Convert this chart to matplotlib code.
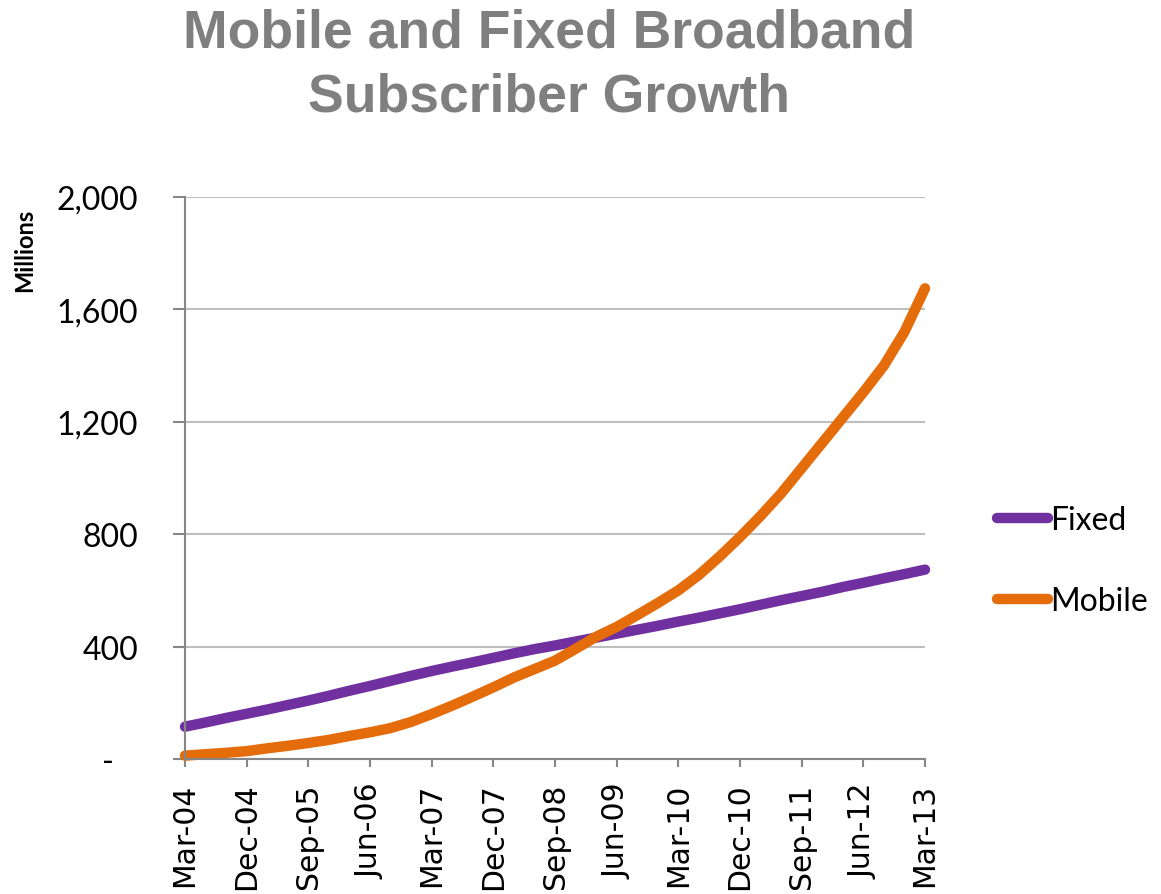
import matplotlib
matplotlib.use("Agg")
from matplotlib import pyplot as plt
from matplotlib.ticker import FuncFormatter

# quarterly, Mar-04 .. Mar-13 (millions of subscribers)
quarters = []
for yr in range(4, 14):
    for mon in ["Mar", "Jun", "Sep", "Dec"]:
        quarters.append("%s-%02d" % (mon, yr))
quarters = quarters[:37]

fixed = [115, 130, 146, 161, 176, 192, 208, 225, 243, 260, 278, 296, 313,
         329, 344, 360, 376, 391, 404, 418, 432, 446, 460, 474, 489, 503,
         518, 533, 549, 565, 580, 595, 612, 627, 643, 658, 674]
mobile = [12, 17, 22, 28, 38, 47, 57, 68, 82, 95, 110, 132, 160, 190, 222,
          255, 290, 320, 350, 392, 435, 470, 512, 555, 600, 655, 720, 790,
          865, 945, 1035, 1125, 1215, 1305, 1400, 1520, 1675]

y_ticks = [0, 400, 800, 1200, 1600, 2000]

W, H = 1161, 895
fig = plt.figure(figsize=(W/100, H/100), dpi=100)
ax = fig.add_axes([185/W, 1-760/H, 740/W, 562/H])

x = list(range(len(quarters)))
ax.plot(x, fixed, color="#7030A0", lw=7.5, solid_capstyle="round",
        solid_joinstyle="round", clip_on=False, label="Fixed")
ax.plot(x, mobile, color="#E46C0A", lw=7.5, solid_capstyle="round",
        solid_joinstyle="round", clip_on=False, label="Mobile")

ax.set_xlim(0, 36)
ax.set_ylim(0, 2000)
ax.set_yticks(y_ticks)
# excel accounting style: zero shown as a dash, indented
ax.yaxis.set_major_formatter(FuncFormatter(lambda v, p: "-   " if v == 0 else "{:,.0f}".format(v)))
ax.set_xticks(x[::3])
ax.set_xticklabels(quarters[::3], rotation=90, fontsize=21.5, family="DejaVu Sans")
for lab in ax.get_yticklabels():
    lab.set_fontsize(23)
    lab.set_family("Lato")

ax.grid(axis="y", color="#BEBEBE", lw=1.5)
ax.set_axisbelow(True)
for s in ["top", "right"]:
    ax.spines[s].set_visible(False)
for s in ["left", "bottom"]:
    ax.spines[s].set_color("#868686")
    ax.spines[s].set_linewidth(1.5)
ax.tick_params(axis="both", color="#868686", width=1.5, direction="out")
ax.tick_params(axis="y", length=8.6, pad=25)
ax.tick_params(axis="x", length=6, pad=11)

fig.text(25/W, 1-250/H, "Millions", rotation=90, ha="center", va="center",
         fontsize=17, fontweight="bold", family="Lato")

title_kw = dict(ha="center", va="baseline", fontsize=38.5, fontweight="bold",
                color="#7F7F7F", family="Liberation Sans")
fig.text(549/W, 1-48/H, "Mobile and Fixed Broadband", **title_kw)
fig.text(549/W, 1-112/H, "Subscriber Growth", **title_kw)

ax.legend(loc="center left", bbox_to_anchor=(1.058, 0.353), frameon=False,
          prop={"family": "Lato", "size": 23}, handlelength=1.6,
          handletextpad=0.08, labelspacing=1.6)

plt.savefig("out.png", dpi=100)
